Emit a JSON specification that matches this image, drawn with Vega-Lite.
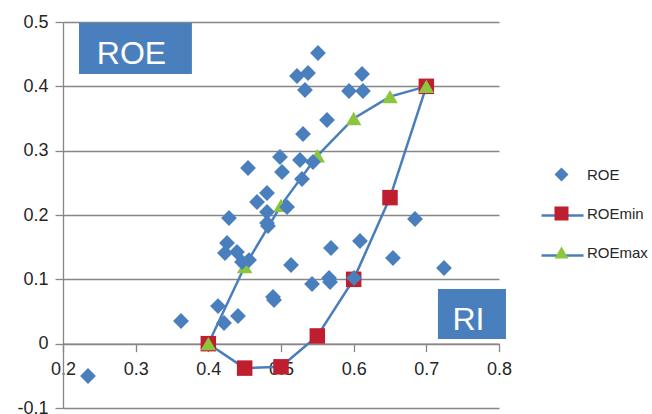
{
  "$schema": "https://vega.github.io/schema/vega-lite/v6.json",
  "width": 436,
  "height": 386,
  "autosize": "none",
  "padding": {"left": 63, "top": 22, "right": 153, "bottom": 6},
  "background": "white",
  "config": {"view": {"stroke": null}, "font": "Liberation Sans"},
  "datasets": {
    "roe": [
      {"x": 0.5509, "y": 0.4518, "series": "ROE"},
      {"x": 0.5220, "y": 0.4161, "series": "ROE"},
      {"x": 0.5372, "y": 0.4207, "series": "ROE"},
      {"x": 0.5330, "y": 0.3943, "series": "ROE"},
      {"x": 0.5303, "y": 0.3259, "series": "ROE"},
      {"x": 0.5633, "y": 0.3477, "series": "ROE"},
      {"x": 0.4986, "y": 0.2902, "series": "ROE"},
      {"x": 0.5261, "y": 0.2855, "series": "ROE"},
      {"x": 0.5440, "y": 0.2824, "series": "ROE"},
      {"x": 0.4546, "y": 0.2731, "series": "ROE"},
      {"x": 0.5014, "y": 0.2668, "series": "ROE"},
      {"x": 0.5289, "y": 0.2560, "series": "ROE"},
      {"x": 0.4807, "y": 0.2342, "series": "ROE"},
      {"x": 0.4670, "y": 0.2202, "series": "ROE"},
      {"x": 0.5083, "y": 0.2124, "series": "ROE"},
      {"x": 0.4284, "y": 0.1953, "series": "ROE"},
      {"x": 0.4807, "y": 0.2047, "series": "ROE"},
      {"x": 0.4807, "y": 0.1876, "series": "ROE"},
      {"x": 0.4821, "y": 0.1829, "series": "ROE"},
      {"x": 0.4257, "y": 0.1565, "series": "ROE"},
      {"x": 0.4229, "y": 0.1409, "series": "ROE"},
      {"x": 0.4394, "y": 0.1425, "series": "ROE"},
      {"x": 0.4463, "y": 0.1269, "series": "ROE"},
      {"x": 0.4560, "y": 0.1300, "series": "ROE"},
      {"x": 0.5138, "y": 0.1223, "series": "ROE"},
      {"x": 0.4133, "y": 0.0585, "series": "ROE"},
      {"x": 0.4216, "y": 0.0321, "series": "ROE"},
      {"x": 0.4408, "y": 0.0430, "series": "ROE"},
      {"x": 0.3624, "y": 0.0352, "series": "ROE"},
      {"x": 0.2344, "y": -0.0503, "series": "ROE"},
      {"x": 0.4890, "y": 0.0725, "series": "ROE"},
      {"x": 0.4904, "y": 0.0679, "series": "ROE"},
      {"x": 0.5427, "y": 0.0927, "series": "ROE"},
      {"x": 0.5661, "y": 0.1021, "series": "ROE"},
      {"x": 0.5675, "y": 0.0959, "series": "ROE"},
      {"x": 0.6005, "y": 0.1021, "series": "ROE"},
      {"x": 0.5688, "y": 0.1487, "series": "ROE"},
      {"x": 0.6087, "y": 0.1596, "series": "ROE"},
      {"x": 0.6541, "y": 0.1332, "series": "ROE"},
      {"x": 0.7243, "y": 0.1176, "series": "ROE"},
      {"x": 0.6844, "y": 0.1938, "series": "ROE"},
      {"x": 0.6115, "y": 0.4192, "series": "ROE"},
      {"x": 0.5936, "y": 0.3927, "series": "ROE"},
      {"x": 0.6128, "y": 0.3927, "series": "ROE"}
    ],
    "bounds": [
      {"x": 0.40, "y": 0.000, "series": "ROEmin"},
      {"x": 0.45, "y": -0.038, "series": "ROEmin"},
      {"x": 0.50, "y": -0.036, "series": "ROEmin"},
      {"x": 0.55, "y": 0.012, "series": "ROEmin"},
      {"x": 0.60, "y": 0.100, "series": "ROEmin"},
      {"x": 0.65, "y": 0.227, "series": "ROEmin"},
      {"x": 0.70, "y": 0.400, "series": "ROEmin"},
      {"x": 0.40, "y": 0.000, "series": "ROEmax"},
      {"x": 0.45, "y": 0.120, "series": "ROEmax"},
      {"x": 0.50, "y": 0.215, "series": "ROEmax"},
      {"x": 0.55, "y": 0.292, "series": "ROEmax"},
      {"x": 0.60, "y": 0.350, "series": "ROEmax"},
      {"x": 0.65, "y": 0.384, "series": "ROEmax"},
      {"x": 0.70, "y": 0.400, "series": "ROEmax"}
    ],
    "boxes": [
      {"label": "ROE", "x": 0.2220, "x2": 0.3774, "y": 0.4984, "y2": 0.4192},
      {"label": "RI", "x": 0.7160, "x2": 0.8096, "y": 0.0850, "y2": 0.0073}
    ],
    "labels": [
      {"label": "ROE", "x": 0.2943, "y": 0.450},
      {"label": "RI", "x": 0.7580, "y": 0.0368}
    ]
  },
  "encoding": {
    "x": {
      "field": "x",
      "type": "quantitative",
      "scale": {"domain": [0.2, 0.8], "nice": false, "zero": false},
      "axis": {
        "title": null,
        "orient": "bottom",
        "offset": -64.33,
        "values": [0.2, 0.3, 0.4, 0.5, 0.6, 0.7, 0.8],
        "labelExpr": "format(datum.value, '.1f')",
        "grid": false,
        "domainColor": "#868686",
        "domainWidth": 1.3,
        "tickColor": "#868686",
        "tickWidth": 1.3,
        "tickSize": 8,
        "labelFont": "Liberation Sans",
        "labelFontSize": 18,
        "labelColor": "#262626",
        "labelPadding": 9,
        "labelFlush": false,
        "labelOverlap": false,
        "labelBound": false
      }
    },
    "y": {
      "field": "y",
      "type": "quantitative",
      "scale": {"domain": [-0.1, 0.5], "nice": false, "zero": false},
      "axis": {
        "title": null,
        "values": [-0.1, 0, 0.1, 0.2, 0.3, 0.4, 0.5],
        "labelExpr": "datum.value < 0 ? '-' + format(-datum.value, '.1f') : (datum.value == 0 ? '0' : format(datum.value, '.1f'))",
        "grid": true,
        "gridColor": "#868686",
        "gridWidth": 1.3,
        "domainColor": "#868686",
        "domainWidth": 1.3,
        "tickColor": "#868686",
        "tickWidth": 1.3,
        "tickSize": 8,
        "labelFont": "Liberation Sans",
        "labelFontSize": 18,
        "labelColor": "#262626",
        "labelPadding": 7,
        "labelFlush": false,
        "labelOverlap": false,
        "labelBound": false
      }
    }
  },
  "layer": [
    {
      "data": {"name": "boxes"},
      "mark": {"type": "rect", "fill": "#4a7fbe"},
      "encoding": {
        "x2": {"field": "x2"},
        "y2": {"field": "y2"}
      }
    },
    {
      "data": {"name": "labels"},
      "mark": {"type": "text", "color": "white", "font": "Liberation Sans", "fontSize": 32, "align": "center", "baseline": "middle"},
      "encoding": {
        "text": {"field": "label"}
      }
    },
    {
      "data": {"name": "bounds"},
      "mark": {"type": "line", "strokeWidth": 2.5},
      "encoding": {
        "stroke": {
          "field": "series",
          "type": "nominal",
          "scale": {"domain": ["ROE", "ROEmin", "ROEmax", "_"], "range": ["transparent", "#4a7ebb", "#4a7ebb", "transparent"]},
          "legend": {
            "orient": "none",
            "legendX": 491,
            "legendY": 145,
            "title": null,
            "padding": 0,
            "offset": 0,
            "symbolType": "M-3,0H3",
            "symbolSize": 196,
            "symbolStrokeWidth": 2.5,
            "labelExpr": "''",
            "labelOpacity": 0,
            "labelFont": "Liberation Sans",
            "labelFontSize": 15,
            "labelOffset": 18,
            "rowPadding": 23
          }
        }
      }
    },
    {
      "data": {"name": "bounds"},
      "mark": {"type": "point", "filled": true, "opacity": 1, "size": 240},
      "encoding": {
        "fill": {
          "field": "series",
          "type": "nominal",
          "scale": {"domain": ["ROE", "ROEmin", "ROEmax"], "range": ["#4a7fbe", "#be1e2d", "#8cc63f"]},
          "legend": {
            "orient": "none",
            "legendX": 491,
            "legendY": 145,
            "title": null,
            "padding": 0,
            "offset": 0,
            "symbolSize": 196,
            "symbolStrokeWidth": 0,
            "labelFont": "Liberation Sans",
            "labelFontSize": 15,
            "labelColor": "#262626",
            "labelOffset": 18,
            "rowPadding": 23
          }
        },
        "shape": {
          "field": "series",
          "type": "nominal",
          "scale": {"domain": ["ROE", "ROEmin", "ROEmax"], "range": ["diamond", "square", "triangle-up"]}
        }
      }
    },
    {
      "data": {"name": "roe"},
      "mark": {"type": "point", "filled": true, "opacity": 1, "size": 250},
      "encoding": {
        "fill": {"field": "series", "type": "nominal"},
        "shape": {"field": "series", "type": "nominal"}
      }
    }
  ]
}
